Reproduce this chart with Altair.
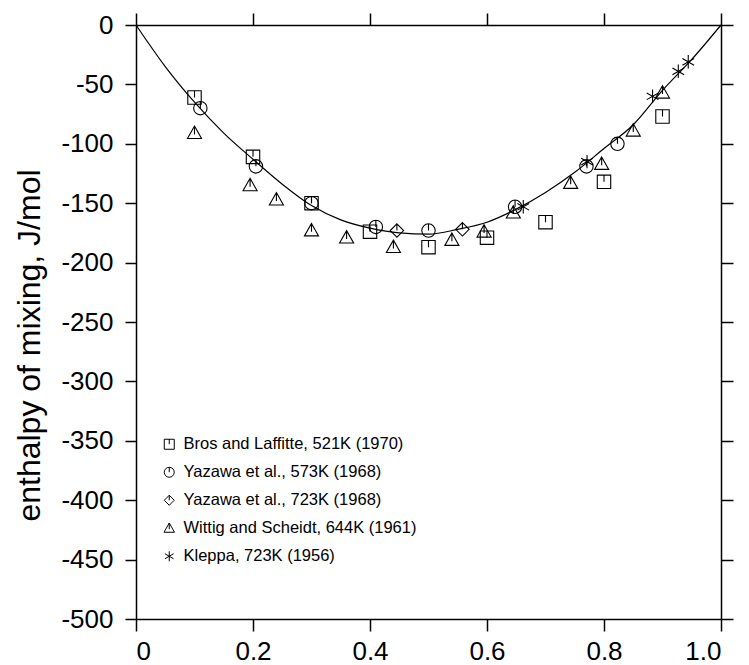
import altair as alt
import pandas as pd

FONT = "Liberation Sans"

# regular-solution fit curve
curve_x = [0.0, 0.05, 0.1, 0.15, 0.2, 0.25, 0.3, 0.35, 0.4, 0.45, 0.5,
           0.55, 0.6, 0.65, 0.7, 0.75, 0.8, 0.85, 0.9, 0.95, 1.0]
curve_y = [0, -35, -65, -91, -113, -134, -152, -164, -171, -175, -176,
           -172, -166, -155, -141, -124, -104, -84, -55, -29, 0]

series_names = [
    "Bros and Laffitte, 521K (1970)",
    "Yazawa et al., 573K (1968)",
    "Yazawa et al., 723K (1968)",
    "Wittig and Scheidt, 644K (1961)",
    "Kleppa, 723K (1956)",
]

bros_x = [0.10, 0.20, 0.30, 0.40, 0.50, 0.60, 0.70, 0.80, 0.90]
bros_y = [-61, -111, -150, -174, -187, -179, -166, -132, -77]
yaz573_x = [0.11, 0.205, 0.30, 0.41, 0.50, 0.648, 0.77, 0.823]
yaz573_y = [-70, -119, -150, -170, -173, -153, -119, -100]
yaz723_x = [0.446, 0.558]
yaz723_y = [-173, -172]
wittig_x = [0.10, 0.195, 0.24, 0.30, 0.36, 0.44, 0.54, 0.595, 0.645, 0.743, 0.796, 0.85, 0.90]
wittig_y = [-91, -135, -147, -173, -179, -187, -181, -174, -158, -133, -117, -89, -57]
kleppa_x = [0.662, 0.771, 0.883, 0.927, 0.944]
kleppa_y = [-153, -115, -60, -39, -31]

x_ticks = [0, 0.2, 0.4, 0.6, 0.8, 1.0]
y_ticks = list(range(-500, 1, 50))

# marker outlines (with the small stem seen on the original markers)
shape_paths = [
    "M-1,-1L1,-1L1,1L-1,1Z M0,-1L0,0",
    "M1,0A1,1,0,1,1,-1,0A1,1,0,1,1,1,0Z M0,-1L0,0",
    "M0,-1L1,0L0,1L-1,0Z M0,-1L0,0",
    "M0,-1.05L1.05,0.8L-1.05,0.8Z M0,-1.05L0,0.2",
    "M0,-1L0,1M-0.87,-0.5L0.87,0.5M-0.87,0.5L0.87,-0.5",
]

rows = []
for name, xs, ys in zip(series_names,
                        [bros_x, yaz573_x, yaz723_x, wittig_x, kleppa_x],
                        [bros_y, yaz573_y, yaz723_y, wittig_y, kleppa_y]):
    for a, b in zip(xs, ys):
        rows.append({"series": name, "x": a, "y": b})
pts = pd.DataFrame(rows)
curve_df = pd.DataFrame({"x": curve_x, "y": curve_y})

x_scale = alt.Scale(domain=[0, 1], nice=False, zero=False)
y_scale = alt.Scale(domain=[-500, 0], nice=False, zero=False)

common = dict(domainColor="black", domainWidth=1.5, tickColor="black",
              tickWidth=1.5, grid=False, labelFont=FONT, labelFontSize=26,
              labelColor="black")

curve = alt.Chart(curve_df).mark_line(
    color="black", strokeWidth=1.2, interpolate="monotone"
).encode(
    x=alt.X("x:Q", scale=x_scale, axis=alt.Axis(
        orient="bottom", values=x_ticks, tickSize=12, labelPadding=7,
        labelExpr="datum.value == 0 ? '0' : format(datum.value, '.1f')",
        title=None, **common)),
    y=alt.Y("y:Q", scale=y_scale, axis=alt.Axis(
        orient="left", values=y_ticks, tickSize=11, labelPadding=12,
        labelExpr="'' + datum.value",
        title="enthalpy of mixing, J/mol", titleFont=FONT, titleFontSize=32,
        titleFontWeight="normal", titleColor="black", titleAngle=-90,
        titleX=-90, titleY=320, titleAlign="center", titleBaseline="bottom",
        **common)),
)

points = alt.Chart(pts).mark_point(
    filled=False, color="black", strokeWidth=1.1, size=180, opacity=1
).encode(
    x=alt.X("x:Q", scale=x_scale, axis=alt.Axis(
        orient="top", values=x_ticks, tickSize=12, labels=False, title=None,
        **common)),
    y=alt.Y("y:Q", scale=y_scale, axis=alt.Axis(
        orient="right", values=y_ticks, tickSize=12, labels=False, title=None,
        **common)),
    shape=alt.Shape("series:N", scale=alt.Scale(domain=series_names, range=shape_paths),
                    legend=alt.Legend(
                        orient="none", legendX=25, legendY=411, title=None,
                        labelFont=FONT, labelFontSize=16.5, labelColor="black",
                        symbolSize=100, symbolStrokeColor="black",
                        symbolFillColor="transparent", symbolStrokeWidth=1,
                        rowPadding=11, labelOffset=6, padding=0,
                        labelLimit=400)),
)

chart = alt.layer(curve, points).resolve_axis(
    x="independent", y="independent"
).properties(
    width=585, height=594,
    padding={"left": 136, "top": 25, "right": 28, "bottom": 46},
    autosize=alt.AutoSizeParams(type="none"),
    background="white",
).configure_view(stroke=None)

chart.save("out.html", embed_options={"renderer": "svg", "actions": False})
